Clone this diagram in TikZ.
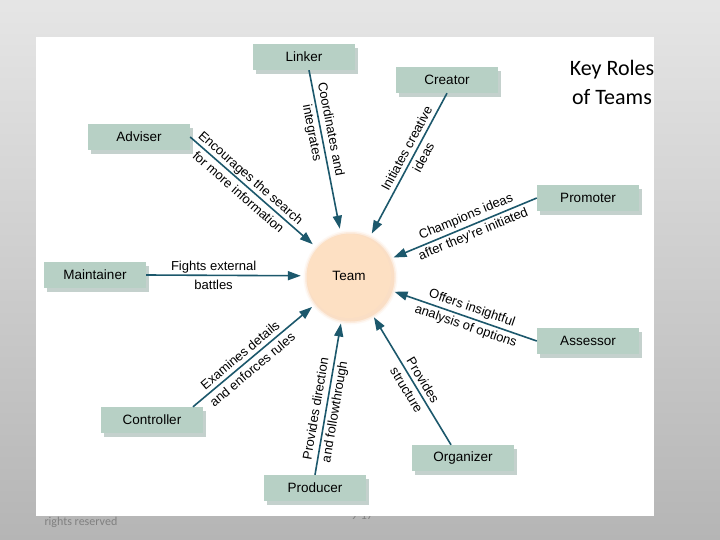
\documentclass[tikz,border=0pt]{standalone}
\usepackage{fontspec}
\setmainfont{Liberation Sans}
\newfontfamily\slidefont{Carlito}
\usetikzlibrary{arrows.meta,shadows}
\definecolor{roleteal}{RGB}{28,88,108}
\definecolor{rolebox}{RGB}{183,208,197}
\definecolor{roleshade}{RGB}{125,155,145}
\definecolor{teampeach}{RGB}{253,224,195}
\definecolor{teamedge}{RGB}{248,205,165}
\definecolor{slidegray}{RGB}{128,128,128}

\begin{document}
\begin{tikzpicture}[x=1pt,y=-1pt,
  role/.style={fill=rolebox, minimum width=102pt, minimum height=26pt, inner sep=0pt,
    font=\fontsize{13.5}{16}\selectfont,
    drop shadow={shadow xshift=3pt, shadow yshift=-4pt, fill=roleshade, opacity=0.45}},
  hub/.style={circle, fill=teampeach, minimum size=84pt, inner sep=0pt,
    font=\fontsize{13.5}{16}\selectfont},
  duty/.style={draw=roleteal, line width=1.6pt, -{Triangle[length=13pt,width=9pt]}, shorten >=6pt},
  dutytext/.style={sloped, align=center, inner sep=0pt, font=\fontsize{13}{19}\selectfont}
]
\useasboundingbox (0,0) rectangle (720,540);
\shade[top color=gray!20, bottom color=gray!58] (0,0) rectangle (720,540);

\node[anchor=west, text=slidegray, font=\slidefont\fontsize{12}{14}\selectfont] (rights) at (41,522) {rights reserved};
\node[text=slidegray, font=\slidefont\fontsize{12}{14}\selectfont] (slideno) at (362,516) {9-17};
\fill[white] (36,37) rectangle (654,516);

\node[font=\slidefont\fontsize{22}{29}\selectfont, align=center] (title) at (612,82) {Key Roles\\of Teams};

\coordinate (hubc) at (349,276);
\foreach \r/\op in {47/0.12, 45.5/0.25, 44/0.45}
  \fill[teamedge, opacity=\op] ([shift={(1.5,1.5)}]hubc) circle (\r);

\node[role] (lnk) at (304,57) {Linker};
\node[role] (cre) at (447,80) {Creator};
\node[role] (adv) at (139,137) {Adviser};
\node[role] (pro) at (588,198) {Promoter};
\node[role] (mnt) at (95,275) {Maintainer};
\node[role] (ass) at (588,341) {Assessor};
\node[role] (ctl) at (152,420) {Controller};
\node[role] (org) at (463,458) {Organizer};
\node[role] (prd) at (315,488) {Producer};
\node[hub] (team) at (hubc) {Team};

\draw[duty] ([xshift=5pt]lnk.south) -- (team) node[dutytext,pos=.37] {Coordinates and\\integrates};
\draw[duty] (cre.south) -- (team) node[dutytext,pos=.41] {Initiates creative\\ideas};
\draw[duty] (adv.east) -- (team) node[dutytext,pos=.43] {Encourages the search\\for more information};
\draw[duty] (mnt.east) -- (team) node[dutytext,pos=.42] {Fights external\\battles};
\draw[duty] (pro.west) -- (team) node[dutytext,pos=.45] {Champions ideas\\after they're initiated};
\draw[duty] (ass.west) -- (team) node[dutytext,pos=.46] {Offers insightful\\analysis of options};
\draw[duty] ([xshift=41pt]ctl.north) -- (team) node[dutytext,pos=.43] {Examines details\\and enforces rules};
\draw[duty] (prd.north) -- (team) node[dutytext,pos=.41] {Provides direction\\and followthrough};
\draw[duty] ([xshift=-12pt]org.north) -- (team) node[dutytext,pos=.45] {Provides\\structure};

\end{tikzpicture}
\end{document}
